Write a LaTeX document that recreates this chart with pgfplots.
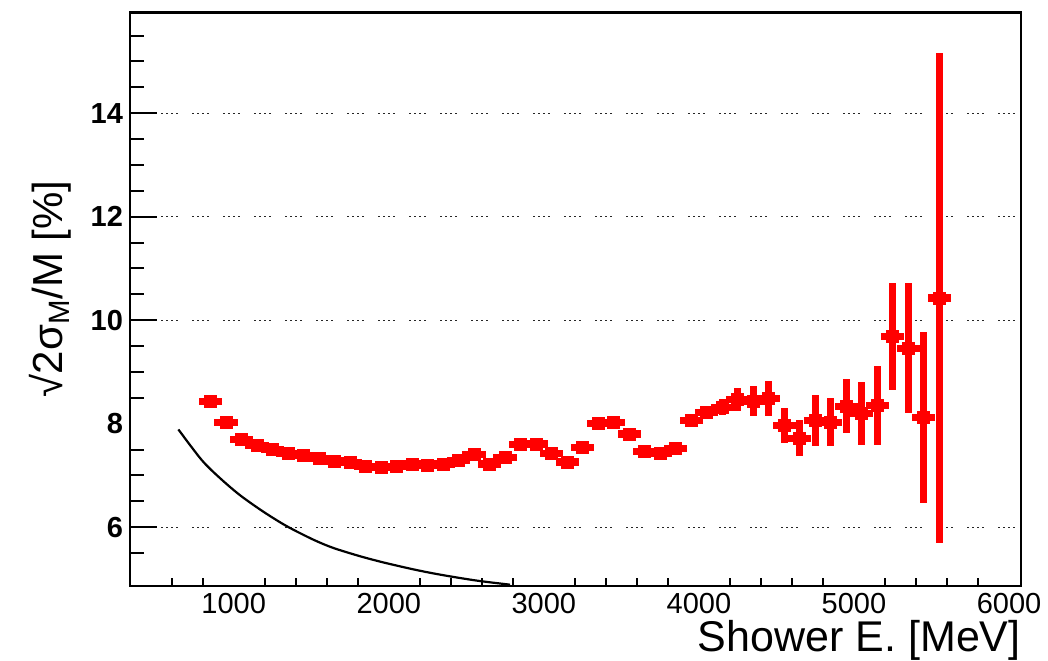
\documentclass[border=0pt]{standalone}
\usepackage{fontspec}
\setmainfont{Liberation Sans}
\usepackage{pgfplots}
\pgfplotsset{compat=1.18}
\usepackage{pgfplotstable}

\pgfplotstableread{
x y ey
850 8.43 0.07
950 8.03 0.07
1050 7.70 0.07
1150 7.58 0.07
1250 7.50 0.07
1350 7.42 0.07
1450 7.38 0.07
1550 7.33 0.07
1650 7.28 0.07
1750 7.25 0.07
1850 7.18 0.07
1950 7.16 0.07
2050 7.17 0.07
2150 7.22 0.07
2250 7.20 0.07
2350 7.22 0.07
2450 7.29 0.07
2550 7.40 0.07
2650 7.22 0.07
2750 7.35 0.07
2850 7.60 0.07
2950 7.61 0.07
3050 7.42 0.07
3150 7.26 0.07
3250 7.54 0.08
3350 8.01 0.08
3450 8.02 0.08
3550 7.80 0.09
3650 7.47 0.09
3750 7.42 0.10
3850 7.52 0.10
3950 8.07 0.11
4050 8.22 0.13
4150 8.32 0.16
4250 8.47 0.22
4350 8.43 0.29
4450 8.48 0.34
4550 7.96 0.34
4650 7.72 0.35
4750 8.06 0.50
4850 8.03 0.47
4950 8.34 0.52
5050 8.20 0.61
5150 8.35 0.76
5250 9.68 1.03
5350 9.46 1.26
5450 8.12 1.66
5550 10.43 4.73
}\reddata

\begin{document}
\begin{tikzpicture}
\useasboundingbox (-65pt,-37.15pt) rectangle (459pt,292.85pt);
\begin{axis}[
  at={(0,0)}, anchor=south west, scale only axis,
  width=445.5pt, height=286.7pt,
  xmin=331, xmax=6077, ymin=4.87, ymax=15.95,
  axis line style={line width=1.2pt, black},
  tick align=inside, xtick pos=left, ytick pos=left,
  xtick={1000,2000,3000,4000,5000,6000},
  xticklabels={1000,2000,3000,4000,5000,6000},
  ytick={6,8,10,12,14}, yticklabels={6,8,10,12,14},
  scaled ticks=false,
  major tick length=0pt, minor tick length=7pt,
  minor ytick={5.5,6.5,7,7.5,8.5,9,9.5,10.5,11,11.5,12.5,13,13.5,14.5,15,15.5},
  extra y ticks={6,10,12,14}, extra y tick labels={},
  extra y tick style={major tick length=13.5pt, grid=major},
  extra x ticks={600,800,1200,1400,1600,1800,2200,2400,2600,2800,3200,3400,3600,3800,4200,4400,4600,4800,5200,5400,5600,5800},
  extra x tick labels={},
  extra x tick style={major tick length=4pt},
  tick style={black, line width=1pt},
  major grid style={black!85, line width=0.6pt, dash pattern=on 0.8pt off 1.7pt on 0.8pt off 1.7pt on 0.8pt off 1.7pt on 0.8pt off 7.2pt},
  xticklabel style={font=\fontsize{14.5}{14.5}\selectfont, inner sep=0pt, yshift=-3.5pt},
  yticklabel style={font=\bfseries\fontsize{14.5}{14.5}\selectfont, inner sep=0pt, xshift=-3.3pt},
  clip=false,
]
\addplot[black, line width=1.1pt, smooth] coordinates {
(643,7.89) (793,7.30) (911,6.95) (1040,6.62) (1191,6.30) (1342,6.02)
(1513,5.76) (1642,5.60) (1814,5.44) (1965,5.32) (2137,5.20) (2266,5.12)
(2416,5.04) (2588,4.96) (2782,4.89)
};
\addplot[red, only marks, mark=square*, mark size=3pt,
  error bars/.cd, x dir=both, x fixed=75, y dir=both, y explicit,
  error mark=none, error bar style={red, line width=3.6pt}]
  table[x=x, y=y, y error=ey] {\reddata};
\end{axis}
\node[rotate=90, anchor=base east, inner sep=0pt, font=\fontsize{21}{21}\selectfont]
  at (-33.5pt,202.85pt) {√2σ\textsubscript{M}/M [\%]};
\node[anchor=base east, inner sep=0pt, font=\fontsize{21.5}{21.5}\selectfont]
  at (445.5pt,-33pt) {Shower E. [MeV]};
\end{tikzpicture}
\end{document}
